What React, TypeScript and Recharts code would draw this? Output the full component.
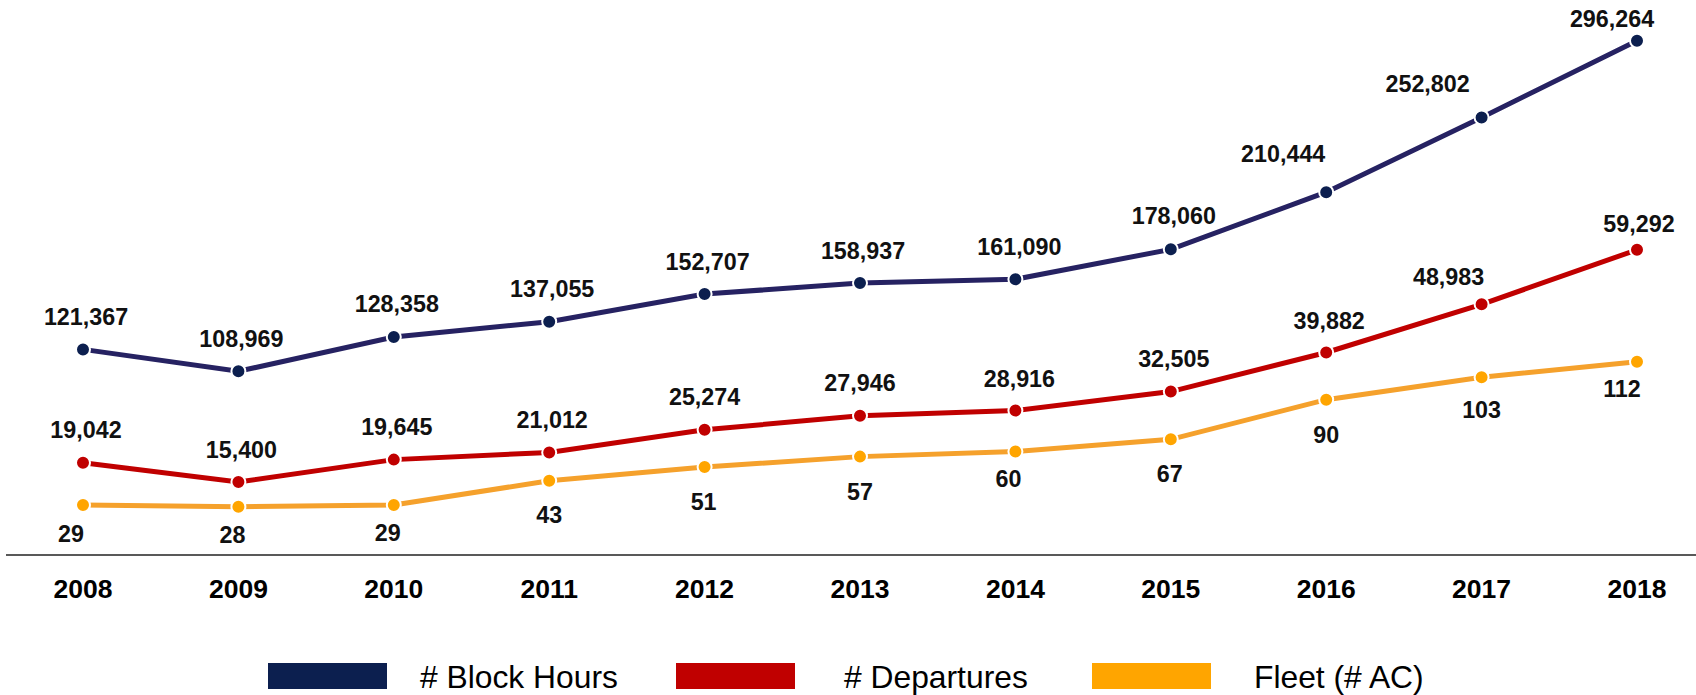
import React from "react";
import { LineChart, Line, XAxis, YAxis, Legend, LabelList, ReferenceLine } from "recharts";

const years = ["2008", "2009", "2010", "2011", "2012", "2013", "2014", "2015", "2016", "2017", "2018"];
const blockHours = [121367, 108969, 128358, 137055, 152707, 158937, 161090, 178060, 210444, 252802, 296264];
const departures = [19042, 15400, 19645, 21012, 25274, 27946, 28916, 32505, 39882, 48983, 59292];
const fleet = [29, 28, 29, 43, 51, 57, 60, 67, 90, 103, 112];

const seriesNames = ["# Block Hours", "# Departures", "Fleet (# AC)"];

const data = years.map((y, i) => ({
  year: y,
  block: blockHours[i],
  dep: departures[i],
  fleet: fleet[i],
}));

const FONT = "'Liberation Sans', Arial, sans-serif";

// label placement relative to each point (dx, dy of label centre)
const blockOff: [number, number][] = [
  [3, -32.5], [3, -32], [3, -33], [3, -32.7], [3, -32.3], [3, -32.5], [4, -32.4], [3, -33], [-43, -38], [-54, -33], [-25, -22],
];
const depOff: [number, number][] = [
  [3, -32.7], [3, -32], [3, -33], [3, -32], [0, -33], [0, -33], [4, -32], [3, -32.7], [3, -32], [-33, -27], [2, -26],
];
const fleetOff: [number, number][] = [
  [-12, 28.6], [-6, 28.3], [-6, 28], [0, 34.3], [-1, 34.7], [0, 35.4], [-7, 28], [-1, 34.3], [0, 35], [0, 33], [-15, 27.6],
];

const makeLabel = (offs: [number, number][]) => (props: any) => {
  const { x, y, value, index } = props;
  const [dx, dy] = offs[index] || [0, 0];
  return (
    <text
      x={x + dx}
      y={y + dy}
      textAnchor="middle"
      dominantBaseline="central"
      fontFamily={FONT}
      fontWeight="bold"
      fontSize={23.3}
      fill="#111111"
    >
      {Number(value).toLocaleString("en-US")}
    </text>
  );
};

const YearTick = (props: any) => {
  const { x, y, payload } = props;
  return (
    <text
      x={x}
      y={y + 25.5}
      textAnchor="middle"
      dominantBaseline="central"
      fontFamily={FONT}
      fontWeight="bold"
      fontSize={26.5}
      fill="#000000"
    >
      {payload.value}
    </text>
  );
};

const legendItems = [
  { name: seriesNames[0], color: "#0c1f4f", swatchLeft: 268, textLeft: 420 },
  { name: seriesNames[1], color: "#c00000", swatchLeft: 676, textLeft: 844 },
  { name: seriesNames[2], color: "#ffa500", swatchLeft: 1092, textLeft: 1254 },
];

const renderLegend = () => (
  <div style={{ position: "relative", width: 1696, height: 40 }}>
    {legendItems.map((it) => (
      <React.Fragment key={it.name}>
        <div
          style={{
            position: "absolute",
            left: it.swatchLeft,
            top: 2,
            width: 119,
            height: 26,
            background: it.color,
          }}
        />
        <div
          style={{
            position: "absolute",
            left: it.textLeft,
            top: 0,
            height: 32,
            lineHeight: "32px",
            fontFamily: FONT,
            fontSize: 31.8,
            color: "#000000",
            whiteSpace: "nowrap",
          }}
        >
          {it.name}
        </div>
      </React.Fragment>
    ))}
  </div>
);

export default function App() {
  return (
    <div style={{ position: "absolute", left: 0, top: 0, width: 1696, height: 695, background: "#ffffff" }}>
      <LineChart
        width={1696}
        height={695}
        data={data}
        margin={{ top: 20, right: 0, bottom: 71.4, left: 6 }}
      >
        <XAxis
          dataKey="year"
          height={60}
          axisLine={false}
          tickLine={false}
          tickSize={0}
          tickMargin={0}
          interval={0}
          padding={{ left: 77, right: 59 }}
          tick={<YearTick />}
        />
        <YAxis yAxisId="bh" hide domain={[0, 307994]} allowDataOverflow />
        <YAxis yAxisId="dep" hide domain={[0, 102702]} allowDataOverflow />
        <YAxis yAxisId="fleet" hide domain={[-4.98, 309.97]} allowDataOverflow />
        <ReferenceLine yAxisId="fleet" y={0} stroke="#595959" strokeWidth={2} />
        <Legend
          verticalAlign="middle"
          layout="horizontal"
          wrapperStyle={{ top: 661, left: 0, width: 1696, height: 40 }}
          content={renderLegend}
        />
        <Line
          yAxisId="bh"
          dataKey="block"
          name={seriesNames[0]}
          stroke="#262262"
          strokeWidth={5}
          dot={{ r: 7, fill: "#0c1f4f", stroke: "#ffffff", strokeWidth: 2 }}
          activeDot={false}
          isAnimationActive={false}
        >
          <LabelList dataKey="block" content={makeLabel(blockOff)} />
        </Line>
        <Line
          yAxisId="dep"
          dataKey="dep"
          name={seriesNames[1]}
          stroke="#c00000"
          strokeWidth={5}
          dot={{ r: 7, fill: "#c00000", stroke: "#ffffff", strokeWidth: 2 }}
          activeDot={false}
          isAnimationActive={false}
        >
          <LabelList dataKey="dep" content={makeLabel(depOff)} />
        </Line>
        <Line
          yAxisId="fleet"
          dataKey="fleet"
          name={seriesNames[2]}
          stroke="#f5a12c"
          strokeWidth={5}
          dot={{ r: 7, fill: "#ffa500", stroke: "#ffffff", strokeWidth: 2 }}
          activeDot={false}
          isAnimationActive={false}
        >
          <LabelList dataKey="fleet" content={makeLabel(fleetOff)} />
        </Line>
      </LineChart>
    </div>
  );
}
